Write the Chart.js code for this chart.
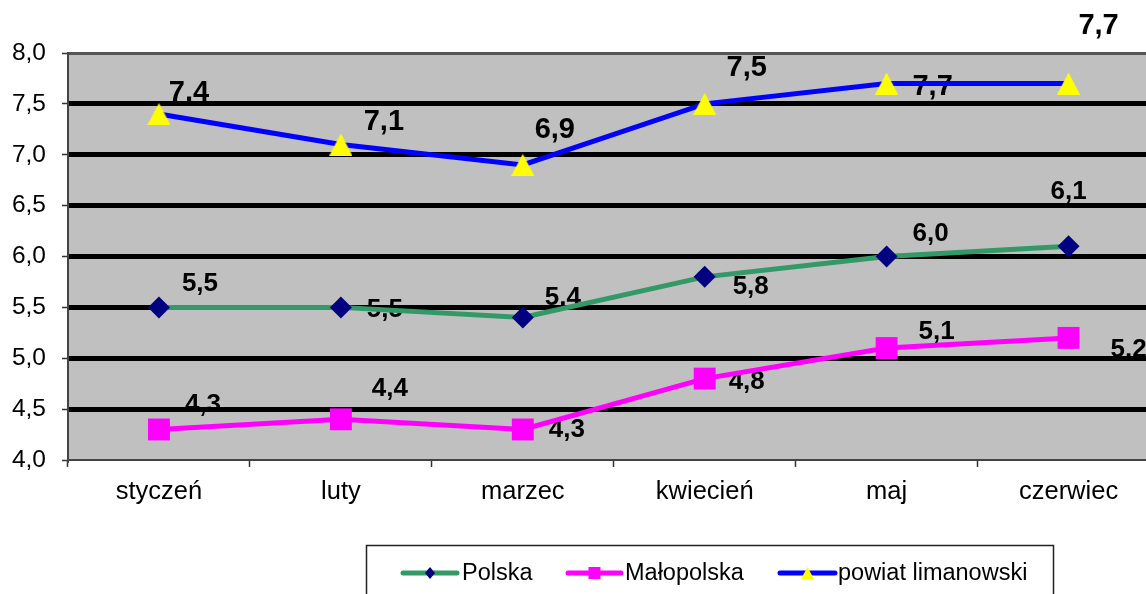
<!DOCTYPE html>
<html lang="pl">
<head>
    <meta charset="UTF-8">
    <title>Stopa bezrobocia</title>
    <script src="https://cdn.jsdelivr.net/npm/chart.js"></script>
    <style>
        html, body { margin: 0; padding: 0; overflow: hidden; background: #fff; }
        #wrap { width: 1175px; height: 594px; }
    </style>
</head>
<body>
    <div id="wrap"><canvas id="chart"></canvas></div>
    <script>
        const months     = ['styczeń', 'luty', 'marzec', 'kwiecień', 'maj', 'czerwiec'];
        const polska     = [5.5, 5.5, 5.4, 5.8, 6.0, 6.1];
        const malopolska = [4.3, 4.4, 4.3, 4.8, 5.1, 5.2];
        const powiat     = [7.4, 7.1, 6.9, 7.5, 7.7, 7.7];
        const seriesNames = ['Polska', 'Małopolska', 'powiat limanowski'];

        // label shifts (px) from each point, as placed in the original
        const labelShift = [
            [[41, -24], [44, 2], [40, -20], [46, 10], [44, -23], [0, -54]],
            [[44, -25], [49, -30], [44, 0], [42, 3], [50, -16], [60, 12]],
            [[30, -21], [43, -23], [32, -35], [42, -36], [46, 3], [30, -58]]
        ];
        const labelSize = [26, 26, 29];

        const FONT = '"Liberation Sans", Arial, sans-serif';
        const fmt = v => v.toFixed(1).replace('.', ',');

        function triangleImg(w, h) {
            const c = document.createElement('canvas');
            c.width = w; c.height = h;
            const g = c.getContext('2d');
            g.fillStyle = '#ffff00';
            g.beginPath();
            g.moveTo(w / 2, 0); g.lineTo(w, h); g.lineTo(0, h);
            g.closePath(); g.fill();
            return c;
        }
        const tri = triangleImg(23, 22);
        const triSmall = triangleImg(13, 12);

        const plotBg = {
            id: 'plotBg',
            beforeDraw(chart) {
                const {ctx, chartArea: a} = chart;
                ctx.save();
                ctx.fillStyle = '#c0c0c0';
                ctx.fillRect(a.left, a.top, a.right - a.left, a.bottom - a.top);
                // value labels sit under grid and lines, like the original
                ctx.fillStyle = '#000';
                ctx.textAlign = 'center';
                ctx.textBaseline = 'middle';
                chart.data.datasets.forEach((ds, i) => {
                    ctx.font = 'bold ' + labelSize[i] + 'px ' + FONT;
                    chart.getDatasetMeta(i).data.forEach((pt, j) => {
                        const s = labelShift[i][j];
                        ctx.fillText(fmt(ds.data[j]), pt.x + s[0], pt.y + s[1]);
                    });
                });
                ctx.restore();
            },
            afterDraw(chart) {
                const ctx = chart.ctx;
                ctx.save();
                ctx.strokeStyle = '#222';
                ctx.lineWidth = 1.5;
                ctx.strokeRect(366.5, 545.5, 687, 60);
                const items = [
                    {x0: 403, x1: 457, col: '#339966', tx: 462},
                    {x0: 568, x1: 621, col: '#ff00ff', tx: 625},
                    {x0: 780, x1: 835, col: '#0000ff', tx: 838}
                ];
                const y = 573;
                ctx.lineCap = 'round';
                items.forEach((it, i) => {
                    ctx.strokeStyle = it.col;
                    ctx.lineWidth = 5;
                    ctx.beginPath(); ctx.moveTo(it.x0, y); ctx.lineTo(it.x1, y); ctx.stroke();
                    const mx = (it.x0 + it.x1) / 2;
                    if (i === 0) {
                        ctx.fillStyle = '#000080';
                        ctx.beginPath();
                        ctx.moveTo(mx, y - 6); ctx.lineTo(mx + 5, y); ctx.lineTo(mx, y + 6); ctx.lineTo(mx - 5, y);
                        ctx.closePath(); ctx.fill();
                    } else if (i === 1) {
                        ctx.fillStyle = '#ff00ff';
                        ctx.fillRect(mx - 6, y - 6, 12, 12);
                    } else {
                        ctx.drawImage(triSmall, mx - 6.5, y - 6);
                    }
                    ctx.fillStyle = '#000';
                    ctx.font = '23.5px ' + FONT;
                    ctx.textAlign = 'left';
                    ctx.textBaseline = 'middle';
                    ctx.fillText(seriesNames[i], it.tx, y + 1);
                });
                ctx.restore();
            }
        };

        const ctx = document.getElementById('chart').getContext('2d');

        new Chart(ctx, {
            type: 'line',
            data: {
                labels: months,
                datasets: [
                    {label: seriesNames[0], data: polska, borderColor: '#339966', borderWidth: 5,
                     pointStyle: 'rectRot', pointRadius: 11, pointBackgroundColor: '#000080',
                     pointBorderColor: '#000080', pointBorderWidth: 0, tension: 0, clip: false},
                    {label: seriesNames[1], data: malopolska, borderColor: '#ff00ff', borderWidth: 5,
                     pointStyle: 'rect', pointRadius: 15.5, pointBackgroundColor: '#ff00ff',
                     pointBorderColor: '#ff00ff', pointBorderWidth: 0, tension: 0, clip: false},
                    {label: seriesNames[2], data: powiat, borderColor: '#0000ff', borderWidth: 5,
                     pointStyle: tri, pointRadius: 12, pointBackgroundColor: '#ffff00',
                     pointBorderWidth: 0, tension: 0, clip: false}
                ]
            },
            options: {
                responsive: true,
                maintainAspectRatio: false,
                animation: false,
                events: [],
                layout: {padding: {top: 53, right: 10, left: 0, bottom: 0}},
                plugins: {legend: {display: false}, tooltip: {enabled: false}},
                scales: {
                    x: {
                        offset: true,
                        grid: {offset: true, drawOnChartArea: false, tickLength: 7,
                               tickColor: '#333', tickWidth: 1.5},
                        border: {display: true, color: '#444', width: 2},
                        ticks: {color: '#000', padding: 10, maxRotation: 0,
                                font: {family: FONT, size: 25.5}},
                        afterFit: s => { s.height = 134; }
                    },
                    y: {
                        min: 4, max: 8,
                        ticks: {stepSize: 0.5, color: '#000', padding: 16,
                                font: {family: FONT, size: 24.5},
                                callback: v => fmt(v)},
                        grid: {
                            color: c => c.tick.value === 8 ? '#555' : (c.tick.value === 4 ? 'rgba(0,0,0,0)' : '#000'),
                            lineWidth: c => c.tick.value === 8 ? 3 : 5,
                            tickLength: 6, tickColor: '#333', tickWidth: 1.5
                        },
                        border: {display: true, color: '#444', width: 2},
                        afterFit: s => { s.width = 68; }
                    }
                }
            },
            plugins: [plotBg]
        });
    </script>
</body>
</html>
